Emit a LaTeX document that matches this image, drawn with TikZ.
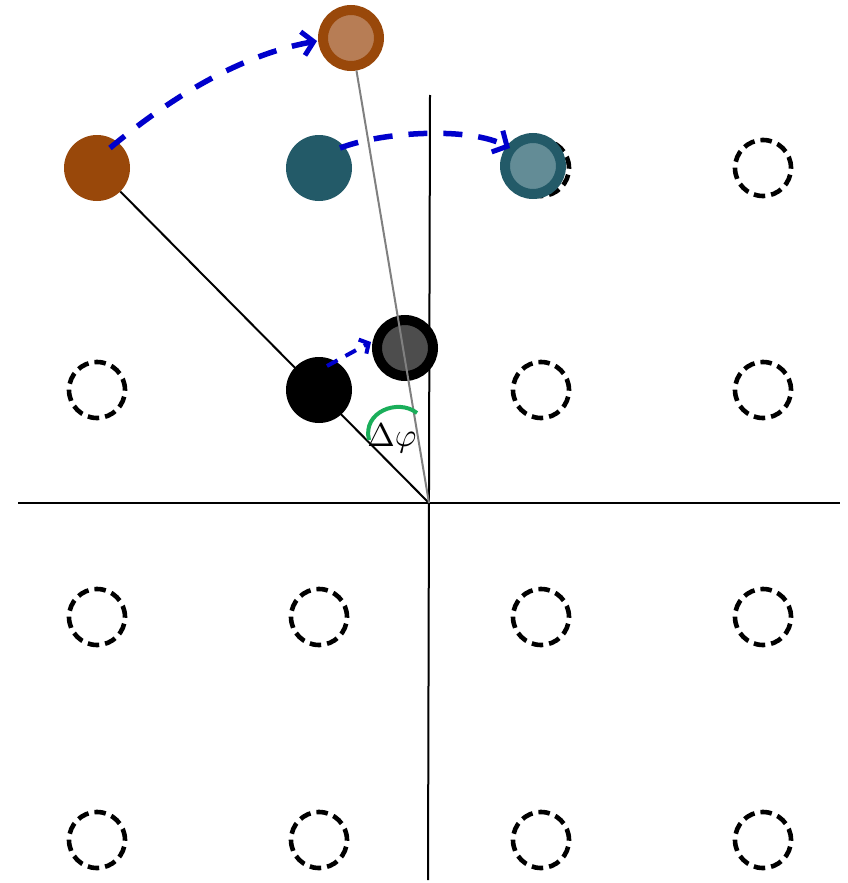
\documentclass[tikz,border=0pt]{standalone}
\usepackage{graphicx}
\usetikzlibrary{arrows.meta}
\definecolor{brownD}{HTML}{99480A}
\definecolor{brownL}{HTML}{B77D55}
\definecolor{tealD}{HTML}{235A68}
\definecolor{tealL}{HTML}{638C96}
\definecolor{grayD}{HTML}{4D4D4D}
\definecolor{blueA}{HTML}{0000CC}
\definecolor{greenA}{HTML}{1AAE5A}
\begin{document}
\begin{tikzpicture}[x=1pt,y=-1pt,
  emptypt/.style={circle,draw=black,line width=4.6pt,minimum size=56pt,inner sep=0pt,dash pattern=on 11.5pt off 6pt},
  fullpt/.style={circle,fill=#1,minimum size=66pt,inner sep=0pt},
  ringpt/.style 2 args={circle,draw=#1,fill=#2,line width=10pt,minimum size=56pt,inner sep=0pt},
  axisline/.style={line width=2pt,black},
  radline/.style={line width=2pt,#1},
  movearrow/.style={blueA,line width=5.5pt,dash pattern=on 19pt off 16pt,-{Straight Barb[length=11pt,width=24pt,line width=5pt]}},
  anglearc/.style={greenA,line width=4pt}
]
\useasboundingbox (0,0) rectangle (848,883);
% axes
\coordinate (xl) at (18,503);
\coordinate (xr) at (840,503);
\coordinate (yt) at (430,95);
\coordinate (yb) at (428,880);
\coordinate (O) at (429,503);
\draw[axisline] (xl) -- (xr);
\draw[axisline] (yt) -- (yb);
% dashed empty constellation points
\node[emptypt] (e13) at (541,168) {};
\node[emptypt] (e14) at (763,168) {};
\node[emptypt] (e21) at (97,390) {};
\node[emptypt] (e23) at (541,390) {};
\node[emptypt] (e24) at (763,390) {};
\node[emptypt] (e31) at (97,617) {};
\node[emptypt] (e32) at (319,617) {};
\node[emptypt] (e33) at (541,617) {};
\node[emptypt] (e34) at (763,617) {};
\node[emptypt] (e41) at (97,840) {};
\node[emptypt] (e42) at (319,840) {};
\node[emptypt] (e43) at (541,840) {};
\node[emptypt] (e44) at (763,840) {};
% filled points
\node[fullpt=brownD] (b1) at (97,168) {};
\node[fullpt=tealD] (t1) at (319,168) {};
\node[fullpt=black] (k1) at (319,390) {};
% rotated points
\node[ringpt={brownD}{brownL}] (b2) at (351,38) {};
\node[ringpt={tealD}{tealL}] (t2) at (533,166) {};
\node[ringpt={black}{grayD}] (k2) at (405,348) {};
% radial lines
\draw[radline=black] (O) -- (b1);
\draw[radline=gray] (O) -- (b2);
% angle
\draw[anglearc] (369,440) .. controls (362,412) and (398,398) .. (417,413);
\node[inner sep=0pt] (dphi) at (392,438) {\scalebox{3.3}{$\Delta\varphi$}};
% movement arrows
\coordinate (a1s) at (110,148);
\coordinate (a1e) at (317,41);
\draw[movearrow] (a1s) .. controls (170,98) and (240,55) .. (a1e);
\coordinate (a2s) at (340,148);
\coordinate (a2e) at (510,148);
\draw[movearrow] (a2s) .. controls (385,131) and (470,127) .. (a2e);
\coordinate (a3s) at (327,366);
\coordinate (a3e) at (371,342);
\draw[movearrow,line width=4pt,dash pattern=on 12pt off 9pt,-{Straight Barb[length=7pt,width=16pt,line width=4pt]}] (a3s) -- (a3e);
\end{tikzpicture}
\end{document}
